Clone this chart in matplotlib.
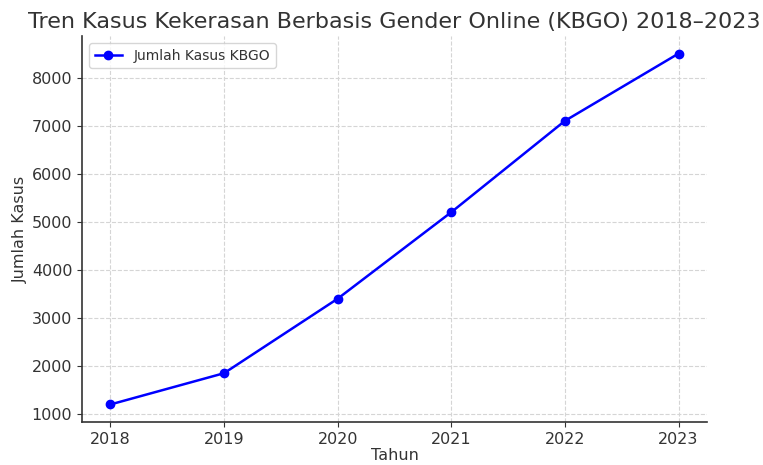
import matplotlib
matplotlib.use("Agg")
import matplotlib.pyplot as plt

# data
tahun = [2018, 2019, 2020, 2021, 2022, 2023]
jumlah_kasus = [1200, 1850, 3400, 5200, 7100, 8500]

text_color = "#333333"
plt.rcParams["text.color"] = text_color
plt.rcParams["axes.labelcolor"] = text_color
plt.rcParams["xtick.color"] = text_color
plt.rcParams["ytick.color"] = text_color

fig = plt.figure(figsize=(7.63, 4.65), dpi=100)
ax = fig.add_axes([0.1075, 0.0925, 0.819, 0.83])

ax.plot(tahun, jumlah_kasus, marker="o", color="blue", linewidth=1.8,
        markersize=6, label="Jumlah Kasus KBGO")

ax.set_title("Tren Kasus Kekerasan Berbasis Gender Online (KBGO) 2018\u20132023",
             fontsize=16, pad=6)
ax.set_xlabel("Tahun", fontsize=11.5, labelpad=1)
ax.set_ylabel("Jumlah Kasus", fontsize=11.5, labelpad=3)
ax.set_xticks(tahun)
ax.tick_params(labelsize=11.5)

ax.grid(True, linestyle="--", color="#d5d5d5", linewidth=0.8)
ax.spines["top"].set_visible(False)
ax.spines["right"].set_visible(False)
for side in ["left", "bottom"]:
    ax.spines[side].set_color(text_color)
    ax.spines[side].set_linewidth(1.2)

ax.legend(loc="upper left", fontsize=10)

fig.savefig("out.png", dpi=100)
